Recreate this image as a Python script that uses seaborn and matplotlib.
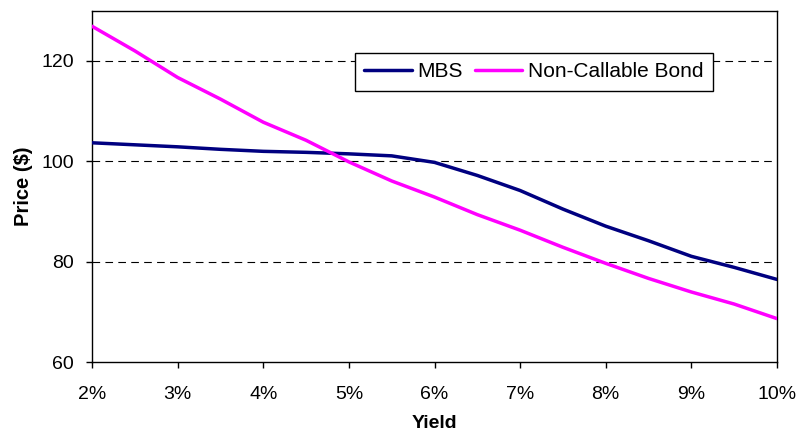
import numpy as np
import pandas as pd
import matplotlib
matplotlib.use("Agg")
import matplotlib.pyplot as plt
import seaborn as sns
from matplotlib.ticker import FuncFormatter

# Yield grid (percent)
yields = [2.0, 2.5, 3.0, 3.5, 4.0, 4.5, 5.0, 5.5, 6.0,
          6.5, 7.0, 7.5, 8.0, 8.5, 9.0, 9.5, 10.0]

# Prices ($)
mbs_price = [103.7, 103.3, 102.9, 102.4, 102.0, 101.8, 101.5, 101.1, 99.8,
             97.2, 94.2, 90.5, 87.1, 84.2, 81.1, 78.9, 76.5]
bond_price = [126.9, 122.0, 116.7, 112.4, 107.8, 104.2, 99.9, 96.1, 92.9,
              89.4, 86.3, 82.9, 79.7, 76.7, 74.0, 71.6, 68.7]

series_names = ["MBS", "Non-Callable Bond"]
series_colors = {"MBS": "#000080", "Non-Callable Bond": "#FF00FF"}

df = pd.concat([
    pd.DataFrame({"Yield": yields, "Price": mbs_price, "Series": series_names[0]}),
    pd.DataFrame({"Yield": yields, "Price": bond_price, "Series": series_names[1]}),
], ignore_index=True)

sns.set_theme(style="white")
plt.rcParams["font.family"] = ["Liberation Sans", "DejaVu Sans"]
plt.rcParams["lines.scale_dashes"] = False
plt.rcParams["text.color"] = "black"
plt.rcParams["axes.labelcolor"] = "black"

fig = plt.figure(figsize=(8.03, 4.36), dpi=100)
ax = fig.add_axes([0.1146, 0.169, 0.853, 0.8065])

# dashed horizontal guides
for yv in [80, 100, 120]:
    ax.axhline(yv, color="black", lw=0.8, dashes=(5.5, 3.8), zorder=1)

sns.lineplot(data=df, x="Yield", y="Price", hue="Series", hue_order=series_names,
             palette=series_colors, linewidth=2.5, ax=ax, zorder=3, legend=True)

ax.set_xlim(2, 10)
ax.set_ylim(60, 130)
ax.set_xticks(range(2, 11))
ax.set_yticks([60, 80, 100, 120])
ax.xaxis.set_major_formatter(FuncFormatter(lambda v, p: f"{int(round(v))}%"))

for s in ax.spines.values():
    s.set_color("black")
    s.set_linewidth(1.0)

ax.tick_params(axis="both", which="major", direction="out", length=4.5, width=1,
               color="black", labelsize=14, labelcolor="black",
               left=True, bottom=True)
ax.tick_params(axis="x", pad=12.5)
ax.tick_params(axis="y", pad=8.5)

ax.set_xlabel("Yield", fontsize=14, fontweight="bold", labelpad=8.5, color="black")
ax.set_ylabel("Price ($)", fontsize=14.5, fontweight="bold", labelpad=6, color="black")

handles, labels = ax.get_legend_handles_labels()
leg = ax.legend(handles, labels, loc="upper left", bbox_to_anchor=(0.384, 0.88),
                ncol=2, fontsize=15, frameon=True, fancybox=False, shadow=False,
                handlelength=2.3, handletextpad=0.25, columnspacing=0.55,
                borderpad=0.45, borderaxespad=0)
leg.get_frame().set_edgecolor("black")
leg.get_frame().set_linewidth(1.0)
leg.get_frame().set_facecolor("white")
leg.get_frame().set_alpha(1)
leg.set_zorder(5)
for t in leg.get_texts():
    t.set_color("black")

fig.savefig("out.png", dpi=100, facecolor="white")
